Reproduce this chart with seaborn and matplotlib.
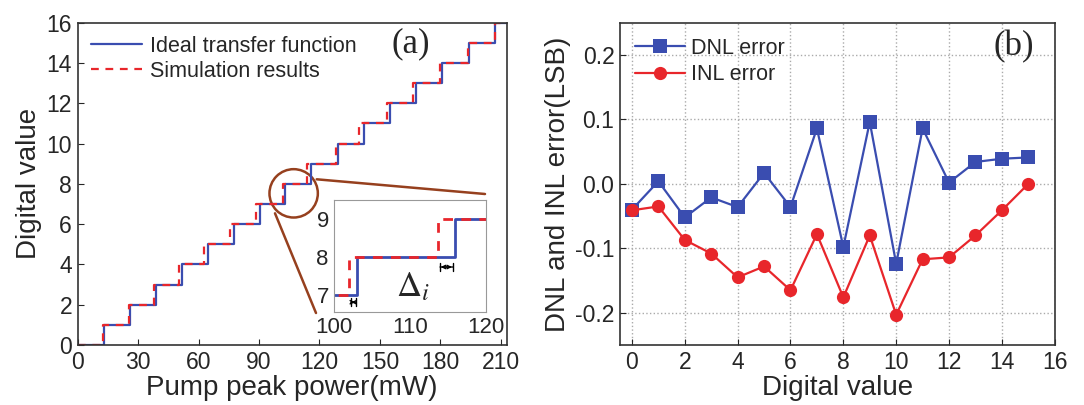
import matplotlib
matplotlib.use("Agg")
import matplotlib.pyplot as plt
import seaborn as sns
import pandas as pd
from matplotlib.patches import Ellipse
from matplotlib.lines import Line2D

# transfer function data (pump power in mW where the output code steps up)
levels = list(range(17))
ideal_edges = [0, 12.9, 25.8, 38.8, 51.7, 64.6, 77.5, 90.4, 103.0, 116.0,
               129.0, 142.0, 155.0, 168.0, 181.0, 194.0, 207.0]
sim_edges = [0, 12.4, 25.4, 37.7, 50.3, 62.7, 75.8, 88.3, 102.0, 113.7,
             128.0, 139.4, 153.5, 166.5, 180.0, 193.5, 207.0]
x_end = 213

# DNL / INL errors
codes = list(range(16))
dnl = [-0.040, 0.004, -0.052, -0.021, -0.036, 0.017, -0.036, 0.086,
       -0.098, 0.096, -0.124, 0.086, 0.002, 0.034, 0.039, 0.041]
inl = [-0.041, -0.035, -0.087, -0.108, -0.145, -0.128, -0.165, -0.078,
       -0.176, -0.080, -0.203, -0.117, -0.114, -0.080, -0.041, 0.000]

blue = '#3A4DB0'
red = '#E8262B'
brown = '#96401E'

sns.set_style("ticks")
plt.rcParams['font.family'] = ['Liberation Sans', 'DejaVu Sans']
plt.rcParams['axes.unicode_minus'] = False
plt.rcParams['xtick.direction'] = 'in'
plt.rcParams['ytick.direction'] = 'in'

fig = plt.figure(figsize=(10.84, 4.05), dpi=100)
ax1 = fig.add_axes([0.0716, 0.148, 0.396, 0.796])
ax2 = fig.add_axes([0.572, 0.148, 0.401, 0.796])

ideal_df = pd.DataFrame({'x': ideal_edges + [x_end], 'y': levels + [16]})
sim_df = pd.DataFrame({'x': sim_edges + [x_end], 'y': levels + [16]})


def draw_steps(ax, lw=1.6):
    sns.lineplot(data=ideal_df, x='x', y='y', ax=ax, sort=False, estimator=None,
                 drawstyle='steps-post', color=blue, lw=lw,
                 label='Ideal transfer function')
    sns.lineplot(data=sim_df, x='x', y='y', ax=ax, sort=False, estimator=None,
                 drawstyle='steps-post', color=red, lw=lw, dashes=(3.5, 3),
                 label='Simulation results')


draw_steps(ax1)
ax1.set_xlim(0, x_end)
ax1.set_ylim(0, 16)
ax1.set_xticks(range(0, 211, 30))
ax1.set_yticks(range(0, 17, 2))
ax1.set_xlabel('Pump peak power(mW)', fontsize=20, labelpad=1)
ax1.set_ylabel('Digital value', fontsize=20, labelpad=3)
ax1.tick_params(labelsize=16.5, length=4, pad=4)
ax1.legend(loc='upper left', frameon=False, fontsize=15.5, handlelength=2.4,
           handletextpad=0.35, borderaxespad=0.2, labelspacing=0.2)
ax1.text(0.775, 0.935, '(a)', transform=ax1.transAxes, fontsize=25,
         family='Liberation Serif', ha='center', va='center')

# zoom circle and connectors
ax1.add_patch(Ellipse((107.2, 7.53), 24, 2.4, fill=False, ec=brown, lw=1.8))
for (x0, y0), (x1, y1) in [((316.7, 179.3), (485, 194)), ((275, 213.3), (316, 313))]:
    fig.add_artist(Line2D([x0 / 1084, x1 / 1084], [1 - y0 / 405, 1 - y1 / 405],
                          color=brown, lw=1.8))

# inset
axin = fig.add_axes([0.3084, 0.2304, 0.1397, 0.2758])
draw_steps(axin, lw=2)
axin.get_legend().remove()
axin.set_xlim(100, 120)
axin.set_ylim(6.55, 9.5)
axin.set_xticks([100, 110, 120])
axin.set_yticks([7, 8, 9])
axin.set_xlabel('')
axin.set_ylabel('')
axin.tick_params(labelsize=16, length=0, pad=4)
for s in axin.spines.values():
    s.set_color('#999999')
axin.annotate('', xy=(101.8, 6.8), xytext=(103.2, 6.8),
              arrowprops=dict(arrowstyle='|-|', lw=1, color='black', mutation_scale=3))
axin.annotate('', xy=(101.9, 6.8), xytext=(103.1, 6.8),
              arrowprops=dict(arrowstyle='<->', lw=1, color='black', mutation_scale=6))
axin.annotate('', xy=(113.6, 7.73), xytext=(116.0, 7.73),
              arrowprops=dict(arrowstyle='|-|', lw=1, color='black', mutation_scale=3))
axin.annotate('', xy=(113.7, 7.73), xytext=(115.9, 7.73),
              arrowprops=dict(arrowstyle='<->', lw=1, color='black', mutation_scale=6))
axin.text(110.4, 7.2, r'$\Delta_i$', fontsize=25, ha='center', va='center',
          math_fontfamily='stix')

# right panel
err_df = pd.DataFrame({'code': codes * 2, 'err': dnl + inl,
                       'kind': ['DNL error'] * 16 + ['INL error'] * 16})
sns.lineplot(data=err_df, x='code', y='err', hue='kind', style='kind',
             palette={'DNL error': blue, 'INL error': red},
             markers={'DNL error': 's', 'INL error': 'o'}, dashes=False,
             markersize=9.5, markeredgewidth=0, lw=1.6, ax=ax2)
ax2.set_xlim(-0.45, 16)
ax2.set_ylim(-0.25, 0.25)
ax2.set_xticks(range(0, 17, 2))
ax2.set_yticks([-0.2, -0.1, 0.0, 0.1, 0.2])
ax2.set_yticklabels(['-0.2', '-0.1', '0.0', '0.1', '0.2'])
ax2.grid(True, ls=':', color='#AAAAAA', lw=1)
ax2.set_xlabel('Digital value', fontsize=20, labelpad=1)
ax2.set_ylabel('DNL and INL error(LSB)', fontsize=20, labelpad=3)
ax2.tick_params(labelsize=16.5, length=4, pad=4)
ax2.legend(loc='upper left', frameon=False, fontsize=15.5, handlelength=2.3,
           handletextpad=0.3, borderaxespad=0.3, labelspacing=0.25, title=None)
ax2.text(0.905, 0.925, '(b)', transform=ax2.transAxes, fontsize=25,
         family='Liberation Serif', ha='center', va='center')

for ax in (ax1, ax2):
    for s in ax.spines.values():
        s.set_color('#333333')
        s.set_linewidth(1.2)

fig.savefig('out.png', dpi=100)
